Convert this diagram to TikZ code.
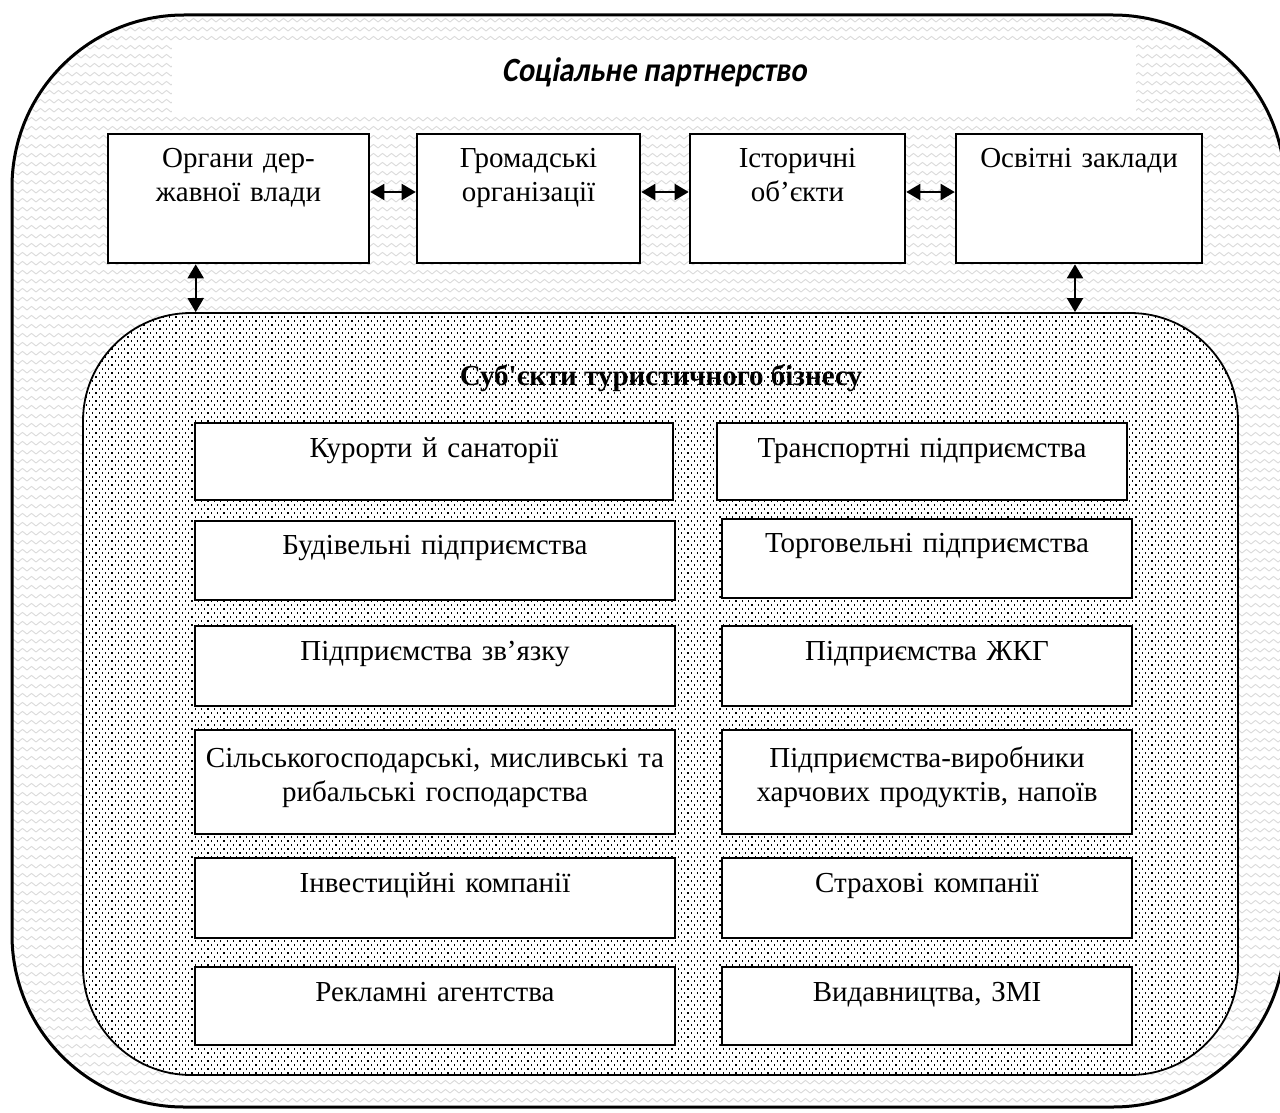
\documentclass[tikz,border=0pt]{standalone}
\usepackage{graphicx}
\usepackage{fontspec}
\setmainfont{Liberation Serif}
\newfontfamily\titlefont[FakeSlant=0.2]{Carlito}
\usetikzlibrary{arrows.meta,patterns.meta,calc}

\tikzdeclarepattern{
  name=wavyfill, type=uncolored,
  bounding box={(-0.5pt,-0.5pt) and (5pt,5pt)},
  tile size={(4.5pt,4.5pt)},
  code={\draw[line width=0.45pt] (0pt,1pt) .. controls (1.1pt,1pt) and (1.1pt,2.8pt) .. (2.25pt,2.8pt) .. controls (3.4pt,2.8pt) and (3.4pt,1pt) .. (4.5pt,1pt);}
}
\tikzdeclarepattern{
  name=dotfill, type=uncolored,
  bounding box={(-0.6pt,-0.6pt) and (3.6pt,4.6pt)},
  tile size={(3.2pt,4pt)},
  code={\fill (-0.3pt,-0.3pt) rectangle (0.3pt,0.3pt); \fill (1.3pt,1.7pt) rectangle (1.9pt,2.3pt);}
}

\tikzset{
  outerzone/.style={draw, line width=1.5pt, rounded corners=86pt, inner sep=0pt,
    preaction={fill=white}, pattern=wavyfill, pattern color=black!14},
  bizzone/.style={draw, line width=0.9pt, rounded corners=54pt, inner sep=0pt,
    preaction={fill=white}, pattern=dotfill, pattern color=black},
  titlebox/.style={fill=white, inner sep=0pt, minimum width=482pt, text height=21pt, text depth=16.5pt,
    font=\titlefont\bfseries\fontsize{16.5}{19}\selectfont},
  topbox/.style={draw, line width=1.3pt, fill=white, inner sep=0pt, align=center,
    text height=17pt, text depth=47.5pt},
  subbox/.style={draw, line width=1pt, fill=white, inner sep=0pt, align=center, text height=17pt},
  dblarr/.style={line width=1pt, {Triangle[length=7pt,width=8pt]}-{Triangle[length=7pt,width=8pt]}},
}

\begin{document}
\begin{tikzpicture}[x=0.5pt,y=-0.5pt, font=\fontsize{14.5}{17}\selectfont]
\useasboundingbox (0,0) rectangle (1280,1113);
\clip (0,0) rectangle (1280,1113);

% outer zone
\node[outerzone, minimum width=636.5pt, minimum height=546pt] (sp) at (648.5,561) {};
\node[titlebox] (title) at (654,77.5) {\scalebox{0.92}[1.03]{Соціальне партнерство}};

% top boxes
\node[topbox, text width=130.5pt] (b1) at (238.5,198.5) {Органи дер-\\жавної влади};
\node[topbox, text width=111.5pt] (b2) at (528.5,198.5) {Громадські\\організації};
\node[topbox, text width=107.5pt] (b3) at (797.5,198.5) {Історичні\\об’єкти};
\node[topbox, text width=123pt] (b4) at (1079,198.5) {Освітні заклади};

\draw[dblarr] ([yshift=3.25pt]b1.east) -- ([yshift=3.25pt]b2.west);
\draw[dblarr] ([yshift=3.25pt]b2.east) -- ([yshift=3.25pt]b3.west);
\draw[dblarr] ([yshift=3.25pt]b3.east) -- ([yshift=3.25pt]b4.west);

% business zone
\node[bizzone, minimum width=577.5pt, minimum height=381pt] (biz) at (660.5,694) {};
\node[anchor=base, font=\bfseries\fontsize{14.5}{17}\selectfont] (biztitle) at (661,385) {Суб\textquotesingle єкти туристичного бізнесу};

\coordinate (v1) at ([xshift=44.5pt]b1.south west);
\coordinate (v2) at ([xshift=-2pt]b4.south);
\draw[dblarr] (v1) -- (v1 |- biz.north);
\draw[dblarr] (v2) -- (v2 |- biz.north);

% inner boxes
\node[subbox, text width=239pt, text depth=21.5pt] (l1) at (434,461.5) {Курорти й санаторії};
\node[subbox, text width=205pt, text depth=21.5pt] (r1) at (922,461.5) {Транспортні підприємства};
\node[subbox, text width=240pt, text depth=22.5pt] (l2) at (435,560) {Будівельні підприємства};
\node[subbox, text width=205pt, text depth=22.5pt] (r2) at (927,558) {Торговельні підприємства};
\node[subbox, text width=240pt, text depth=23pt] (l3) at (435,666) {Підприємства зв’язку};
\node[subbox, text width=205pt, text depth=23pt] (r3) at (927,666) {Підприємства ЖКГ};
\node[subbox, text width=240pt, text height=18.5pt, text depth=33.5pt] (l4) at (435,782) {Сільськогосподарські, мисливські та\\рибальські господарства};
\node[subbox, text width=205pt, text height=18.5pt, text depth=33.5pt] (r4) at (927,782) {Підприємства-виробники\\харчових продуктів, напоїв};
\node[subbox, text width=240pt, text depth=23pt] (l5) at (435,898) {Інвестиційні компанії};
\node[subbox, text width=205pt, text depth=23pt] (r5) at (927,898) {Страхові компанії};
\node[subbox, text width=240pt, text depth=22pt] (l6) at (435,1006) {Рекламні агентства};
\node[subbox, text width=205pt, text depth=22pt] (r6) at (927,1006) {Видавництва, ЗМІ};
\end{tikzpicture}
\end{document}
